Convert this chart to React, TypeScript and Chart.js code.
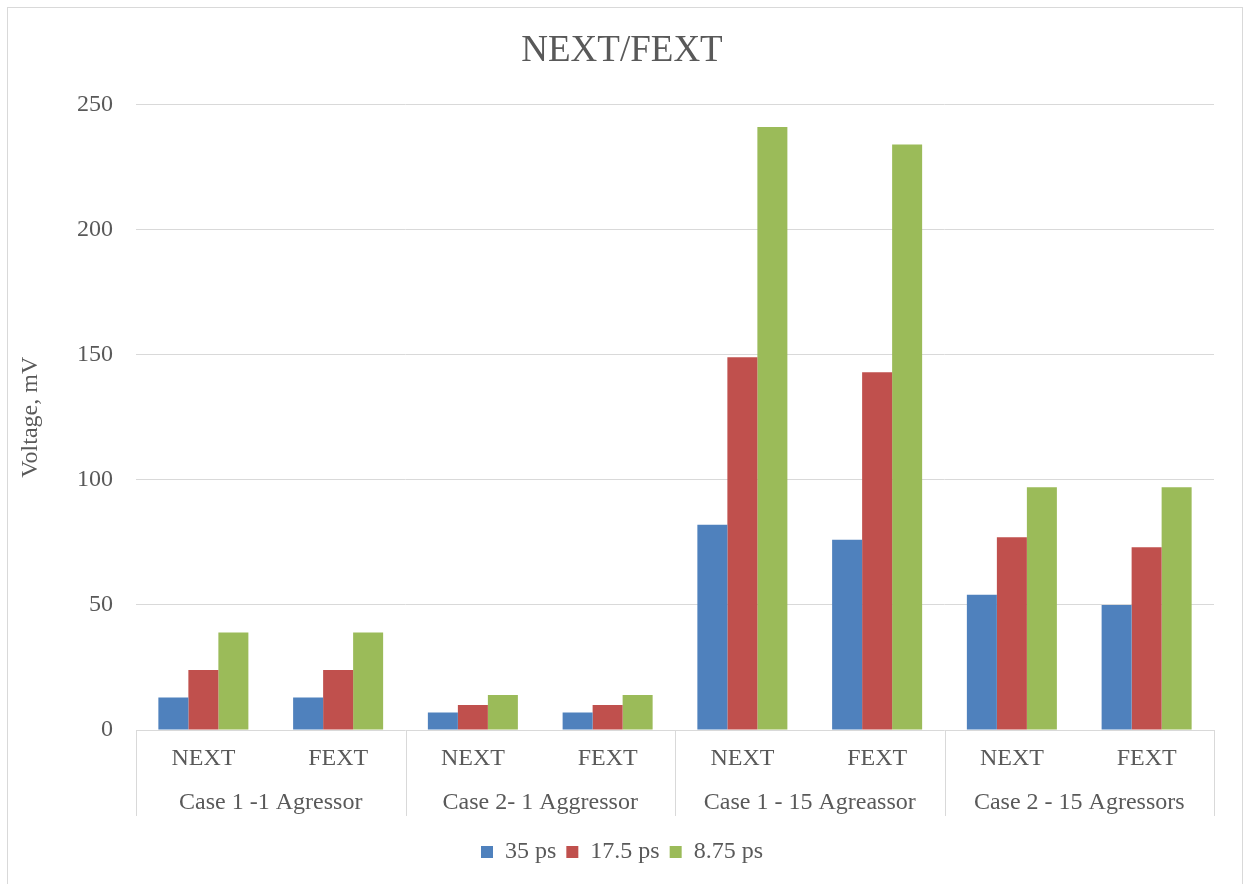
import React, { useEffect, useRef } from "react";
import { Chart, registerables } from "chart.js";

Chart.register(...registerables);

// Sub-categories (one bar cluster each) and the case groups they belong to
const measureLabels = ["NEXT", "FEXT", "NEXT", "FEXT", "NEXT", "FEXT", "NEXT", "FEXT"];
const caseGroups = [
  "Case 1 -1 Agressor",
  "Case 2- 1 Aggressor",
  "Case 1 - 15 Agreassor",
  "Case 2 - 15 Agressors",
];

// Crosstalk voltage (mV) per rise time
const seriesNames = ["35 ps", "17.5 ps", "8.75 ps"];
const values35ps = [13, 13, 7, 7, 82, 76, 54, 50];
const values17_5ps = [24, 24, 10, 10, 149, 143, 77, 73];
const values8_75ps = [39, 39, 14, 14, 241, 234, 97, 97];
const seriesColors = ["#4F81BD", "#C0504D", "#9BBB59"];

const yTicks = [0, 50, 100, 150, 200, 250];

const FONT = "'Liberation Serif', 'Times New Roman', serif";
const TEXT = "#595959";
const LINE = "#D9D9D9";

// Draws the outer frame, the case-group separators and the case labels under the x axis
const groupAxisPlugin = {
  id: "groupAxis",
  afterDraw(chart: any) {
    const { ctx, chartArea } = chart;
    const xScale = chart.scales.x;
    const n = measureLabels.length;
    const perGroup = n / caseGroups.length;
    const catW = (chartArea.right - chartArea.left) / n;
    const sepBottom = chartArea.bottom + 86;
    ctx.save();
    ctx.strokeStyle = LINE;
    ctx.lineWidth = 1;
    for (let g = 0; g <= caseGroups.length; g++) {
      const x = Math.round(xScale.getPixelForValue(g * perGroup) - catW / 2) + 0.5;
      ctx.beginPath();
      ctx.moveTo(x, chartArea.bottom);
      ctx.lineTo(x, sepBottom);
      ctx.stroke();
    }
    ctx.fillStyle = TEXT;
    ctx.font = `24px ${FONT}`;
    ctx.textAlign = "center";
    ctx.textBaseline = "middle";
    caseGroups.forEach((name, g) => {
      const x0 = xScale.getPixelForValue(g * perGroup) - catW / 2;
      const x1 = x0 + catW * perGroup;
      ctx.fillText(name, (x0 + x1) / 2, chartArea.bottom + 73);
    });
    ctx.strokeRect(7.5, 7.5, chart.width - 9, chart.height + 20);
    ctx.restore();
  },
};

export default function App() {
  const canvasRef = useRef<HTMLCanvasElement | null>(null);

  useEffect(() => {
    document.body.style.overflow = "hidden";
    const canvas = canvasRef.current;
    if (!canvas) return;
    const chart = new Chart(canvas, {
      type: "bar",
      data: {
        labels: measureLabels,
        datasets: [
          { label: seriesNames[0], data: values35ps, backgroundColor: seriesColors[0] },
          { label: seriesNames[1], data: values17_5ps, backgroundColor: seriesColors[1] },
          { label: seriesNames[2], data: values8_75ps, backgroundColor: seriesColors[2] },
        ],
      },
      options: {
        responsive: false,
        animation: false,
        layout: { padding: { top: 0, left: 30, right: 30, bottom: 10 } },
        datasets: {
          bar: { categoryPercentage: 0.668, barPercentage: 1.0 },
        },
        plugins: {
          title: {
            display: true,
            text: "NEXT/FEXT",
            color: TEXT,
            font: { family: FONT, size: 37, weight: "normal" },
            padding: { top: 29, bottom: 31 },
          },
          legend: {
            position: "bottom",
            labels: {
              color: TEXT,
              font: { family: FONT, size: 24 },
              boxWidth: 12,
              boxHeight: 12,
              padding: 10,
            },
          },
          tooltip: { enabled: false },
        },
        scales: {
          x: {
            grid: { display: false, drawTicks: false },
            border: { display: false },
            ticks: {
              color: TEXT,
              font: { family: FONT, size: 24 },
              padding: 14,
              maxRotation: 0,
              autoSkip: false,
            },
            afterFit: (scale: any) => {
              scale.height = 100;
            },
          },
          y: {
            min: 0,
            max: 250,
            afterBuildTicks: (scale: any) => {
              scale.ticks = yTicks.map((v) => ({ value: v }));
            },
            grid: { color: LINE, lineWidth: 1, drawTicks: false },
            border: { display: false },
            ticks: {
              color: TEXT,
              font: { family: FONT, size: 24 },
              padding: 23,
            },
            title: {
              display: true,
              text: "Voltage, mV",
              color: TEXT,
              font: { family: FONT, size: 24 },
              padding: { top: -14, bottom: 0 },
            },
            afterFit: (scale: any) => {
              scale.width = 106;
            },
          },
        },
      },
      plugins: [groupAxisPlugin],
    });
    return () => chart.destroy();
  }, []);

  return (
    <div style={{ position: "fixed", left: 0, top: 0, width: 1244, height: 884, background: "#fff" }}>
      <canvas ref={canvasRef} width={1244} height={884} />
    </div>
  );
}
